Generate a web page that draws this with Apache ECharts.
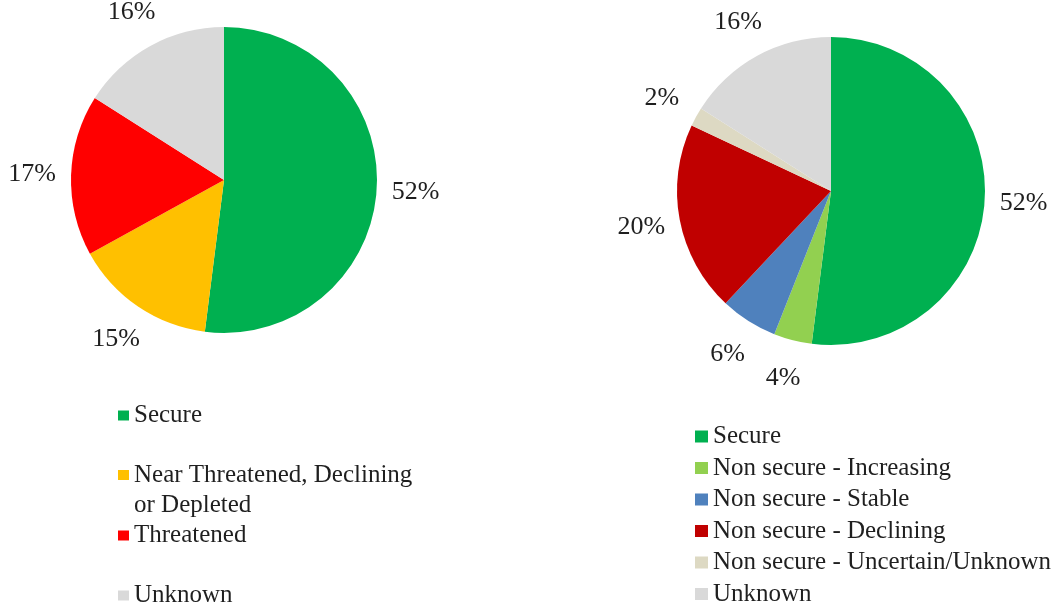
<!DOCTYPE html>
<html>
<head>
<meta charset="utf-8">
<script src="https://cdn.jsdelivr.net/npm/echarts@6/dist/echarts.min.js"></script>
<style>
  html, body { margin: 0; padding: 0; background: #fff; }
  #chart { width: 1059px; height: 608px; }
</style>
</head>
<body>
<div id="chart"></div>
<script>
// left pie: stock status
let leftNames = ['Secure', 'Near Threatened, Declining or Depleted', 'Threatened', 'Unknown'];
let leftValues = [52, 15, 17, 16];
let leftColors = ['#00B050', '#FFC000', '#FF0000', '#D9D9D9'];

// right pie: trend of non secure stocks
let rightNames = ['Secure', 'Non secure - Increasing', 'Non secure - Stable', 'Non secure - Declining',
    'Non secure - Uncertain/Unknown', 'Unknown'];
let rightValues = [52, 4, 6, 20, 2, 16];
let rightColors = ['#00B050', '#92D050', '#4F81BD', '#C00000', '#DDD9C3', '#D9D9D9'];

let serif = 'Liberation Serif, Times New Roman, serif';

function pieData(names, values, colors) {
    return names.map(function (n, i) {
        return { name: n, value: values[i], itemStyle: { color: colors[i] } };
    });
}

// transparent ring around the pie, only used to put the % labels outside the edge
function labelRing(names, values, center, r) {
    return {
        type: 'pie',
        silent: true,
        center: center,
        radius: [r, r + 72],
        startAngle: 90,
        data: names.map(function (n, i) { return { name: n, value: values[i] }; }),
        itemStyle: { color: 'rgba(0,0,0,0)', borderWidth: 0 },
        label: {
            show: true,
            position: 'inside',
            formatter: '{c}%',
            color: '#1f1f1f',
            fontFamily: serif,
            fontSize: 26
        },
        labelLine: { show: false },
        emphasis: { disabled: true }
    };
}

function oneLegend(name, top, extra) {
    let lg = {
        data: [name],
        left: 118,
        top: top,
        padding: 0,
        orient: 'vertical',
        icon: 'rect',
        itemWidth: 11,
        itemHeight: 10,
        selectedMode: false,
        textStyle: { fontFamily: serif, fontSize: 25, color: '#1f1f1f', lineHeight: 25 }
    };
    if (extra) Object.assign(lg.textStyle, extra.textStyle);
    if (extra && extra.formatter) lg.formatter = extra.formatter;
    return lg;
}

let chart = echarts.init(document.getElementById('chart'));
let option = {
    animation: false,
    legend: [
        oneLegend(leftNames[0], 403),
        // leading empty line keeps the icon next to the first text line
        oneLegend(leftNames[1], 430, {
            formatter: function (n) { return '\n' + n.replace('Declining ', 'Declining\n'); },
            textStyle: { lineHeight: 30 }
        }),
        oneLegend(leftNames[2], 523),
        oneLegend(leftNames[3], 583),
        {
            data: rightNames,
            left: 695,
            top: 424,
            padding: 0,
            orient: 'vertical',
            icon: 'rect',
            itemWidth: 13,
            itemHeight: 12,
            itemGap: 6.5,
            selectedMode: false,
            textStyle: { fontFamily: serif, fontSize: 25, color: '#1f1f1f', lineHeight: 25 }
        }
    ],
    series: [
        {
            type: 'pie',
            center: [224, 180],
            radius: 153,
            startAngle: 90,
            data: pieData(leftNames, leftValues, leftColors),
            label: { show: false },
            labelLine: { show: false },
            itemStyle: { borderWidth: 0 }
        },
        {
            type: 'pie',
            center: [831, 191],
            radius: 154,
            startAngle: 90,
            data: pieData(rightNames, rightValues, rightColors),
            label: { show: false },
            labelLine: { show: false },
            itemStyle: { borderWidth: 0 }
        },
        labelRing(leftNames, leftValues, [224, 180], 153),
        labelRing(rightNames, rightValues, [831, 191], 154)
    ]
};
chart.setOption(option);
</script>
</body>
</html>
